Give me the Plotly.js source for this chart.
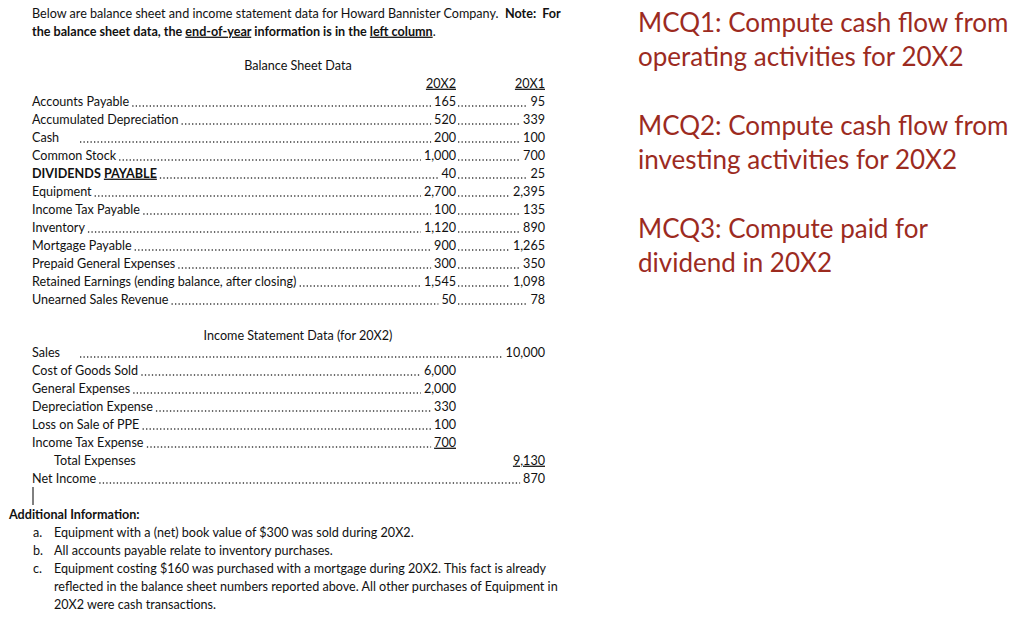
<!DOCTYPE html>
<html>
<head>
<meta charset="utf-8">
<script src="https://cdn.plot.ly/plotly-3.0.1.min.js"></script>
<style>
  html, body { margin: 0; padding: 0; background: #fff; }
  #sheet { width: 1024px; height: 624px; }
</style>
</head>
<body>
<div id="sheet"></div>
<script>
// intro text
const introLines = [
  'Below are balance sheet and income statement data for Howard Bannister Company.&nbsp; <b>Note:&nbsp; For</b>',
  '<b>the balance sheet data, the <u>end-of-year</u> information is in the <u>left column</u></b>.'
];

// balance sheet
const bsYears = ['20X2', '20X1'];
const bsLabels = [
  'Accounts Payable', 'Accumulated Depreciation', 'Cash', 'Common Stock',
  '<b>DIVIDENDS <u>PAYABLE</u></b>', 'Equipment', 'Income Tax Payable', 'Inventory',
  'Mortgage Payable', 'Prepaid General Expenses',
  'Retained Earnings (ending balance, after closing)', 'Unearned Sales Revenue'
];
const bs20X2 = [165, 520, 200, 1000, 40, 2700, 100, 1120, 900, 300, 1545, 50];
const bs20X1 = [95, 339, 100, 700, 25, 2395, 135, 890, 1265, 350, 1098, 78];

// income statement (first col = expense items, second col = totals)
const isLabels = [
  'Sales', 'Cost of Goods Sold', 'General Expenses', 'Depreciation Expense',
  'Loss on Sale of PPE', 'Income Tax Expense', 'Total Expenses', 'Net Income'
];
const isCol1 = [null, 6000, 2000, 330, 100, 700, null, null];
const isCol2 = [10000, null, null, null, null, null, 9130, 870];

const addInfo = [
  ['a.', 'Equipment with a (net) book value of $300 was sold during 20X2.'],
  ['b.', 'All accounts payable relate to inventory purchases.'],
  ['c.', 'Equipment costing $160 was purchased with a mortgage during 20X2. This fact is already'],
  ['', 'reflected in the balance sheet numbers reported above. All other purchases of Equipment in'],
  ['', '20X2 were cash transactions.']
];

const mcqLines = [
  ['MCQ1: Compute cash flow from', 'operating activities for 20X2'],
  ['MCQ2: Compute cash flow from', 'investing activities for 20X2'],
  ['MCQ3: Compute paid for', 'dividend in 20X2']
];

const FONT = 'Lato';
const SIZE = 12.6;
const INK = '#111';
const RED = '#9c2b1f';
const DY = 1.5; // Lato sits a little high compared to the original

const ctx = document.createElement('canvas').getContext('2d');
function textWidth(str, size) {
  const bold = str.indexOf('<b>') >= 0;
  const plain = str.replace(/<[^>]+>/g, '').replace(/&nbsp;/g, ' ');
  ctx.font = (bold ? 'bold ' : '') + size + 'px ' + FONT;
  return ctx.measureText(plain).width;
}
function fmt(v) { return v.toLocaleString('en-US'); }

// text trace accumulators
const tx = [], ty = [], tt = [], tp = [], tc = [], ts = [];
function put(x, y, s, pos, color, size) {
  tx.push(x); ty.push(y + DY); tt.push(s); tp.push(pos);
  tc.push(color || INK); ts.push(size || SIZE);
}
// leader accumulators
const lx = [], ly = [];
function leader(x0, x1, y) {
  if (x1 - x0 < 4) return;
  lx.push(x0, x1, null); ly.push(y + 5, y + 5, null);
}

const leftX = 32, c1R = 456, c2R = 545, tabX = 80;
const tabbed = ['Cash', 'Sales'];

introLines.forEach((s, i) => put(leftX, 13 + i * 18, s, 'middle right'));

// balance sheet
put(298, 65, 'Balance Sheet Data', 'middle center');
put(c1R, 83, '<u>' + bsYears[0] + '</u>', 'middle left');
put(c2R, 83, '<u>' + bsYears[1] + '</u>', 'middle left');
bsLabels.forEach((lab, i) => {
  const y = 101 + i * 18;
  put(leftX, y, lab, 'middle right');
  const v1 = fmt(bs20X2[i]), v2 = fmt(bs20X1[i]);
  put(c1R, y, v1, 'middle left');
  put(c2R, y, v2, 'middle left');
  const start = tabbed.includes(lab) ? tabX : leftX + textWidth(lab, SIZE) + 3;
  leader(start, c1R - textWidth(v1, SIZE) - 3, y);
  leader(c1R + 2, c2R - textWidth(v2, SIZE) - 3, y);
});

// income statement
put(298, 335, 'Income Statement Data (for 20X2)', 'middle center');
isLabels.forEach((lab, i) => {
  const y = 352 + i * 18;
  const indent = lab === 'Total Expenses' ? 54 : leftX;
  put(indent, y, lab, 'middle right');
  const start = tabbed.includes(lab) ? tabX : indent + textWidth(lab, SIZE) + 3;
  if (isCol1[i] !== null) {
    const v = fmt(isCol1[i]);
    const last = isCol1[i + 1] === null;
    put(c1R, y, last ? '<u>' + v + '</u>' : v, 'middle left');
    leader(start, c1R - textWidth(v, SIZE) - 3, y);
  }
  if (isCol2[i] !== null) {
    const v = fmt(isCol2[i]);
    const total = lab === 'Total Expenses';
    put(c2R, y, total ? '<u>' + v + '</u>' : v, 'middle left');
    if (!total) leader(start, c2R - textWidth(v, SIZE) - 3, y);
  }
});

// additional info
put(9, 514, '<b>Additional Information:</b>', 'middle right');
addInfo.forEach((row, i) => {
  const y = 532 + i * 18;
  if (row[0]) put(33, y, row[0], 'middle right');
  put(54, y, row[1], 'middle right');
});

// questions on the right
mcqLines.forEach((blk, b) => {
  blk.forEach((s, j) => put(638, 24 + b * 103 + j * 34, s, 'middle right', RED, 26));
});

const textTrace = {
  x: tx, y: ty, text: tt, mode: 'text', type: 'scatter',
  textposition: tp,
  textfont: { family: FONT, size: ts, color: tc },
  hoverinfo: 'skip', cliponaxis: false
};
const leaderTrace = {
  x: lx, y: ly, mode: 'lines', type: 'scatter',
  line: { color: '#3a3a3a', width: 1.3, dash: '1.3px,2.2px' },
  hoverinfo: 'skip', connectgaps: false
};

const layout = {
  width: 1024, height: 624,
  margin: { l: 0, r: 0, t: 0, b: 0 },
  paper_bgcolor: '#fff', plot_bgcolor: '#fff',
  showlegend: false,
  xaxis: { range: [0, 1024], visible: false, fixedrange: true },
  yaxis: { range: [624, 0], visible: false, fixedrange: true },
  shapes: [
    // text cursor left in the screenshot
    { type: 'line', xref: 'x', yref: 'y', x0: 33, x1: 33, y0: 487, y1: 505,
      line: { color: '#000', width: 1 } }
  ]
};

Plotly.newPlot('sheet', [leaderTrace, textTrace], layout, { staticPlot: true, displayModeBar: false });
</script>
</body>
</html>
